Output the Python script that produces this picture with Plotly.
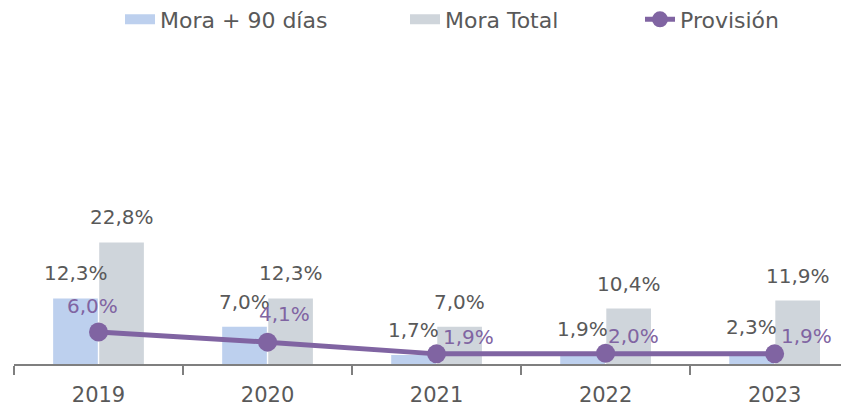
import plotly.graph_objects as go

years = ["2019", "2020", "2021", "2022", "2023"]
mora90 = [12.3, 7.0, 1.7, 1.9, 2.3]
mora_total = [22.8, 12.3, 7.0, 10.4, 11.9]
provision = [6.0, 4.1, 1.9, 2.0, 1.9]

def fmt(v):
    return f"{v:.1f}%".replace(".", ",")

FONT = "DejaVu Sans, sans-serif"
GRAY = "#595959"
PURPLE = "#8064A2"
BLUE = "#BDD0EE"
LGRAY = "#CFD5DB"
FIG_W, FIG_H = 841, 398

# label offsets (styling) for the Provisión labels
prov_dx = [-6, 17, 32, 28, 32]
prov_dy = [12, 14, 3, 3, 4]

fig = go.Figure()
fig.add_trace(go.Bar(name="Mora + 90 días", x=years, y=mora90, showlegend=False,
                     marker_color=BLUE, marker_line_width=0, hoverinfo="skip"))
fig.add_trace(go.Bar(name="Mora Total", x=years, y=mora_total, showlegend=False,
                     marker_color=LGRAY, marker_line_width=0, hoverinfo="skip"))
# legend entries drawn as wide flat swatches
fig.add_trace(go.Scatter(name="Mora + 90 días", x=[None], y=[None], mode="lines",
                         line=dict(color=BLUE, width=10), legend="legend"))
fig.add_trace(go.Scatter(name="Mora Total", x=[None], y=[None], mode="lines",
                         line=dict(color=LGRAY, width=10), legend="legend2"))
fig.add_trace(go.Scatter(name="Provisión", x=years, y=provision, mode="lines+markers",
                         line=dict(color=PURPLE, width=5),
                         marker=dict(color=PURPLE, size=19), hoverinfo="skip",
                         legend="legend3"))

ann = []
for i, y in enumerate(years):
    ann.append(dict(x=i, y=mora90[i], text=fmt(mora90[i]), xref="x", yref="y",
                    showarrow=False, xanchor="center", yanchor="bottom",
                    xshift=-23, yshift=11, font=dict(color=GRAY, size=20, family=FONT)))
    ann.append(dict(x=i, y=mora_total[i], text=fmt(mora_total[i]), xref="x", yref="y",
                    showarrow=False, xanchor="center", yanchor="bottom",
                    xshift=23, yshift=11, font=dict(color=GRAY, size=20, family=FONT)))
    ann.append(dict(x=i, y=provision[i], text=fmt(provision[i]), xref="x", yref="y",
                    showarrow=False, xanchor="center", yanchor="bottom",
                    xshift=prov_dx[i], yshift=prov_dy[i],
                    font=dict(color=PURPLE, size=20, family=FONT)))

def leg(text_start):
    return dict(orientation="h", xref="container", yref="container",
                x=(text_start - 40) / FIG_W, xanchor="left",
                y=1 - 11.5 / FIG_H, yanchor="middle",
                font=dict(size=22, color=GRAY, family=FONT),
                bgcolor="rgba(0,0,0,0)", borderwidth=0)

fig.update_layout(
    width=FIG_W, height=FIG_H,
    margin=dict(l=6, r=0, t=36, b=42),
    paper_bgcolor="white", plot_bgcolor="white",
    barmode="group", bargap=0.455, bargroupgap=0.03,
    font=dict(family=FONT, color=GRAY, size=20),
    showlegend=True,
    legend=leg(152), legend2=leg(437), legend3=leg(672),
    annotations=ann,
)
fig.update_xaxes(range=[-0.5, 4.44], showline=True, linecolor="#7F7F7F", linewidth=1.5,
                 ticks="outside", tickson="boundaries", ticklen=9, tickcolor="#7F7F7F",
                 tickwidth=1.5, tickfont=dict(size=21, color=GRAY, family=FONT),
                 ticklabelstandoff=11, showgrid=False)
fig.update_yaxes(range=[0, 60], visible=False, showgrid=False, zeroline=False)

fig.write_html("out.html")
